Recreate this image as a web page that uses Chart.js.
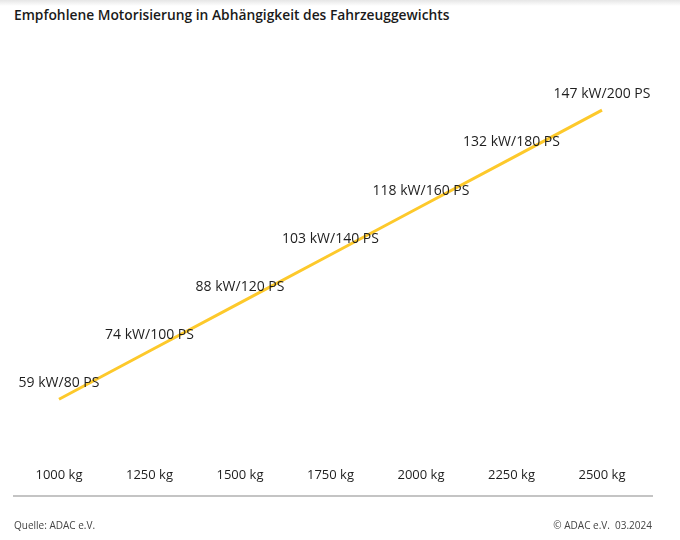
<!DOCTYPE html>
<html lang="de">
<head>
<meta charset="utf-8">
<script src="https://cdn.jsdelivr.net/npm/chart.js@4"></script>
<style>
  html, body { margin: 0; padding: 0; background: #fff; }
  #wrap { position: relative; width: 680px; height: 540px; overflow: hidden; font-family: "Open Sans", "Noto Sans", sans-serif; }
  #shadow { position: absolute; left: 0; top: 0; width: 680px; height: 6px; background: linear-gradient(#e6e6e6, #fff); }
  #title { position: absolute; left: 14px; top: 5px; font-size: 13.8px; font-weight: 600; color: #1a1a1a; white-space: nowrap; }
  #rule { position: absolute; left: 13px; top: 495px; width: 640px; height: 2px; background: #c4c4c4; }
  .foot { position: absolute; top: 518px; font-size: 10px; color: #444; white-space: nowrap; }
  #src { left: 14px; }
  #copy { right: 28px; }
  canvas { position: absolute; left: 0; top: 0; }
</style>
</head>
<body>
<div id="wrap">
  <div id="shadow"></div>
  <div id="title">Empfohlene Motorisierung in Abhängigkeit des Fahrzeuggewichts</div>
  <canvas id="chart" width="680" height="540"></canvas>
  <div id="rule"></div>
  <div class="foot" id="src">Quelle: ADAC e.V.</div>
  <div class="foot" id="copy">© ADAC e.V.&nbsp; 03.2024</div>
</div>
<script>
const weights = ['1000 kg', '1250 kg', '1500 kg', '1750 kg', '2000 kg', '2250 kg', '2500 kg'];
const kw = [59, 74, 88, 103, 118, 132, 147];
const ps = [80, 100, 120, 140, 160, 180, 200];

// Beschriftung ueber jedem Punkt
const pointLabels = {
    id: 'pointLabels',
    afterDatasetsDraw(chart) {
        const ctx = chart.ctx;
        const meta = chart.getDatasetMeta(0);
        ctx.save();
        ctx.font = '500 14px "Open Sans", "Noto Sans", sans-serif';
        ctx.fillStyle = '#1e1e1e';
        ctx.textAlign = 'center';
        ctx.textBaseline = 'middle';
        meta.data.forEach(function(pt, i) {
            ctx.fillText(kw[i] + ' kW/' + ps[i] + ' PS', pt.x, pt.y - 16);
        });
        ctx.restore();
    }
};

const ctx = document.getElementById('chart').getContext('2d');
new Chart(ctx, {
    type: 'line',
    data: {
        labels: weights,
        datasets: [{
            data: ps,
            borderColor: '#fdc92b',
            borderWidth: 3,
            pointRadius: 0,
            tension: 0,
            fill: false
        }]
    },
    options: {
        responsive: false,
        animation: false,
        layout: {
            padding: { left: 59, right: 78, top: 62, bottom: 37 }
        },
        plugins: {
            legend: { display: false },
            tooltip: { enabled: false }
        },
        scales: {
            x: {
                offset: false,
                border: { display: false },
                grid: { display: false, drawTicks: false },
                ticks: {
                    color: '#1e1e1e',
                    padding: 20,
                    maxRotation: 0,
                    autoSkip: false,
                    font: { family: '"Open Sans", "Noto Sans", sans-serif', size: 13, weight: 500 }
                }
            },
            y: {
                display: false,
                min: 60,
                max: 220
            }
        }
    },
    plugins: [pointLabels]
});
</script>
</body>
</html>
